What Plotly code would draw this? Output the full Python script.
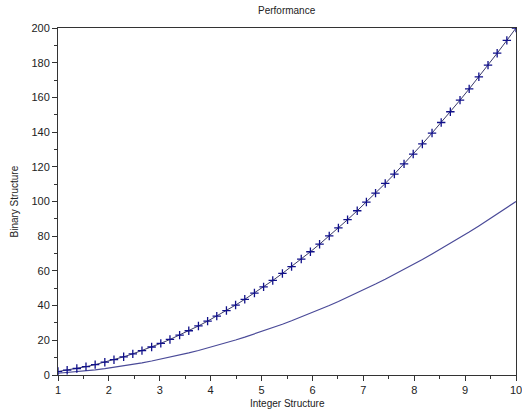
import plotly.graph_objects as go

x_vals = [1.00, 1.18, 1.37, 1.55, 1.73, 1.92, 2.10, 2.29, 2.47, 2.65, 2.84, 3.02, 3.20, 3.39, 3.57,
          3.76, 3.94, 4.12, 4.31, 4.49, 4.67, 4.86, 5.04, 5.22, 5.41, 5.59, 5.78, 5.96, 6.14, 6.33,
          6.51, 6.69, 6.88, 7.06, 7.24, 7.43, 7.61, 7.80, 7.98, 8.16, 8.35, 8.53, 8.71, 8.90, 9.08,
          9.27, 9.45, 9.63, 9.82, 10.00]
binary_vals = [2.00, 2.78, 3.75, 4.81, 5.99, 7.37, 8.82, 10.49, 12.20, 14.05, 16.13, 18.24, 20.48,
               22.98, 25.49, 28.28, 31.05, 33.95, 37.15, 40.32, 43.62, 47.24, 50.80, 54.50, 58.54,
               62.50, 66.82, 71.04, 75.40, 80.14, 84.76, 89.51, 94.67, 99.68, 104.84, 110.41,
               115.82, 121.68, 127.36, 133.17, 139.45, 145.52, 151.73, 158.42, 164.89, 171.87,
               178.61, 185.47, 192.86, 200.00]
integer_vals = [1.00, 1.39, 1.88, 2.40, 3.00, 3.69, 4.41, 5.24, 6.10, 7.02, 8.07, 9.12, 10.24,
                11.49, 12.75, 14.14, 15.52, 16.97, 18.58, 20.16, 21.81, 23.62, 25.40, 27.25, 29.27,
                31.25, 33.41, 35.52, 37.70, 40.07, 42.38, 44.76, 47.34, 49.84, 52.42, 55.21, 57.91,
                60.84, 63.68, 66.58, 69.73, 72.76, 75.87, 79.21, 82.45, 85.94, 89.31, 92.74, 96.43,
                100.00]

x_ticks = [1, 2, 3, 4, 5, 6, 7, 8, 9, 10]
y_ticks = [0, 20, 40, 60, 80, 100, 120, 140, 160, 180, 200]

FONT = "Liberation Sans, Arial, sans-serif"

fig = go.Figure()
fig.add_trace(go.Scatter(x=x_vals, y=integer_vals, mode="lines",
                         line=dict(color="#4a4a98", width=1.2), showlegend=False))
fig.add_trace(go.Scatter(x=x_vals, y=binary_vals, mode="lines+markers",
                         line=dict(color="#3a3a6a", width=1),
                         marker=dict(symbol="cross-thin", size=6,
                                     line=dict(color="#10108a", width=1.3)),
                         showlegend=False))

axis_common = dict(showline=True, mirror=True, linecolor="#333333", linewidth=1,
                   ticks="outside", ticklen=5, tickcolor="#333333", showgrid=False,
                   zeroline=False, automargin=False, ticklabeloverflow="allow",
                   tickfont=dict(family=FONT, size=11, color="#222222"))

fig.update_xaxes(range=[1, 10], tickvals=x_ticks,
                 minor=dict(ticks="outside", ticklen=3, tickcolor="#333333", dtick=0.5, tick0=0),
                 **axis_common)
fig.update_yaxes(range=[0, 200], tickvals=y_ticks,
                 minor=dict(ticks="outside", ticklen=3, tickcolor="#333333", dtick=10, tick0=0),
                 **axis_common)

fig.update_layout(
    width=522, height=410,
    margin=dict(l=58, r=6, t=28, b=35),
    paper_bgcolor="white", plot_bgcolor="white",
    font=dict(family=FONT, size=10, color="#222222"),
    annotations=[
        dict(text="Performance", xref="paper", yref="paper", x=0.5, y=1, yshift=18,
             showarrow=False, font=dict(family=FONT, size=10, color="#222222"),
             xanchor="center", yanchor="middle"),
        dict(text="Integer Structure", xref="paper", yref="paper", x=0.5, y=0, yshift=-28,
             showarrow=False, font=dict(family=FONT, size=10, color="#222222"),
             xanchor="center", yanchor="middle"),
        dict(text="Binary Structure", xref="paper", yref="paper", x=0, xshift=-44, y=0.5,
             textangle=-90, showarrow=False, font=dict(family=FONT, size=10, color="#222222"),
             xanchor="center", yanchor="middle"),
    ],
)

fig.write_html("out.html")
